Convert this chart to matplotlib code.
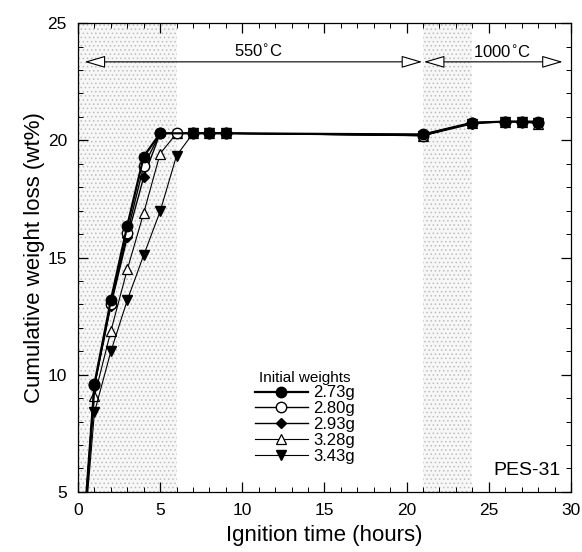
import matplotlib
matplotlib.use("Agg")
import matplotlib.pyplot as plt
from matplotlib.ticker import MultipleLocator

plt.rcParams['font.family'] = ['Liberation Sans', 'DejaVu Sans']
plt.rcParams['hatch.color'] = '#bdbdbd'
plt.rcParams['hatch.linewidth'] = 0.6

# ---- data ----
time_a = [0, 1, 2, 3, 4, 5, 7, 8, 9, 21, 24, 26, 27, 28]
time_b = [0, 1, 2, 3, 4, 5, 6, 7, 8, 9, 21, 24, 26, 27, 28]
w_273 = [0, 9.6, 13.18, 16.36, 19.31, 20.3, 20.3, 20.3, 20.3, 20.25, 20.75, 20.8, 20.8, 20.8]
w_280 = [0, 9.55, 13.0, 16.05, 18.91, 20.3, 20.3, 20.3, 20.3, 20.3, 20.2, 20.75, 20.8, 20.8, 20.75]
w_293 = [0, 9.5, 12.95, 15.86, 18.43, 20.3, 20.3, 20.3, 20.3, 20.25, 20.75, 20.8, 20.8, 20.75]
w_328 = [0, 9.07, 11.86, 14.49, 16.9, 19.43, 20.3, 20.3, 20.3, 20.3, 20.2, 20.75, 20.8, 20.8, 20.7]
w_343 = [0, 8.39, 10.99, 13.18, 15.1, 16.97, 19.35, 20.3, 20.3, 20.3, 20.2, 20.7, 20.8, 20.8, 20.75]
labels = ["2.73g", "2.80g", "2.93g", "3.28g", "3.43g"]
heat_550 = (0, 6)
heat_1000 = (21, 24)
arrow_550 = (0.4, 20.95)
arrow_1000 = (21.05, 29.5)

fig = plt.figure(figsize=(5.82, 5.52), dpi=100)
ax = fig.add_axes([0.134, 0.109, 0.847, 0.849])

# shaded heating periods
for (a, b) in (heat_550, heat_1000):
    ax.axvspan(a, b, facecolor='#f7f7f7', hatch='....', linewidth=0, zorder=0)

ax.plot(time_a, w_273, '-o', color='black', lw=1.6, ms=7.5, mfc='black', mec='black', label=labels[0], zorder=6)
ax.plot(time_b, w_280, '-o', color='black', lw=1.0, ms=7.5, mfc='white', mec='black', mew=1.0, label=labels[1], zorder=5)
ax.plot(time_a, w_293, '-D', color='black', lw=1.0, ms=5, mfc='black', mec='black', label=labels[2], zorder=4)
ax.plot(time_b, w_328, '-^', color='black', lw=0.8, ms=7, mfc='white', mec='black', mew=0.9, label=labels[3], zorder=3)
ax.plot(time_b, w_343, '-v', color='black', lw=0.8, ms=7, mfc='black', mec='black', label=labels[4], zorder=3)

# temperature arrows
arrow_y = 23.35
for (a, b) in (arrow_550, arrow_1000):
    ax.annotate('', xy=(b, arrow_y), xytext=(a, arrow_y),
                arrowprops=dict(arrowstyle='<|-|>,head_length=1.3,head_width=0.38',
                                fc='white', ec='black', lw=0.8, shrinkA=0, shrinkB=0))
ax.text(11.0, 23.8, '550$^{\\circ}$C', ha='center', va='center', fontsize=12)
ax.text(25.8, 23.75, '1000$^{\\circ}$C', ha='center', va='center', fontsize=12)

ax.text(29.4, 5.55, 'PES-31', ha='right', va='bottom', fontsize=14)

ax.set_xlim(0, 30)
ax.set_ylim(5, 25)
ax.xaxis.set_major_locator(MultipleLocator(5))
ax.xaxis.set_minor_locator(MultipleLocator(1))
ax.yaxis.set_major_locator(MultipleLocator(5))
ax.yaxis.set_minor_locator(MultipleLocator(1))
ax.tick_params(which='both', direction='in', top=True, right=True, labelsize=12.5)
ax.tick_params(which='major', length=7, width=0.9)
ax.tick_params(which='minor', length=3.5, width=0.7)
ax.tick_params(axis='x', which='major', pad=8)
ax.tick_params(axis='y', which='major', pad=8)
for s in ax.spines.values():
    s.set_linewidth(0.9)

ax.set_xlabel('Ignition time (hours)', fontsize=16, labelpad=5)
ax.set_ylabel('Cumulative weight loss (wt%)', fontsize=16, labelpad=2)

leg = ax.legend(title='Initial weights', loc='lower left', bbox_to_anchor=(0.335, 0.035),
                frameon=False, fontsize=12, title_fontsize=11, handlelength=3.2,
                handletextpad=0.3, labelspacing=0.05, borderpad=0.2)

fig.savefig('out.png', dpi=100)
